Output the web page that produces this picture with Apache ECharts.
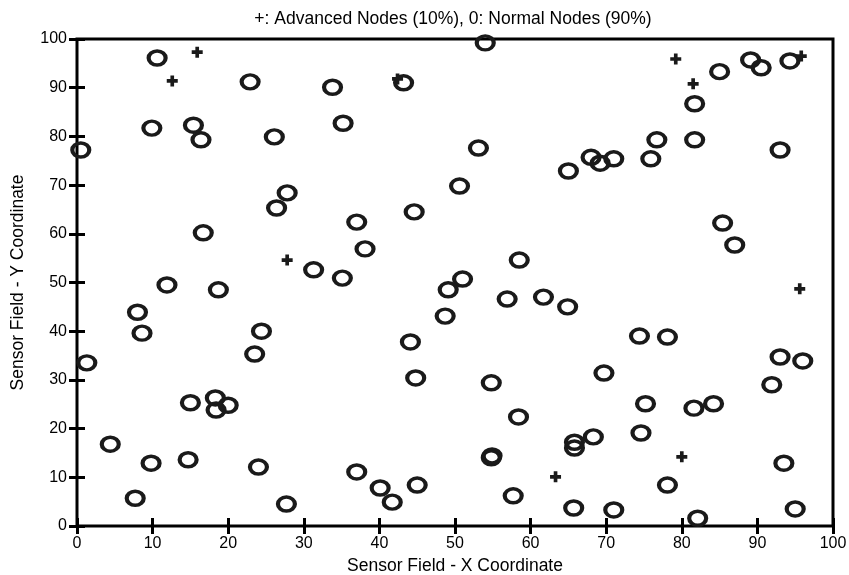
<!DOCTYPE html>
<html>
<head>
<meta charset="utf-8">
<script src="https://cdn.jsdelivr.net/npm/echarts@6/dist/echarts.min.js"></script>
<style>
html,body{margin:0;padding:0;background:#fff;}
#chart{width:849px;height:575px;}
</style>
</head>
<body>
<div id="chart"></div>
<script>
const titleText = '+: Advanced Nodes (10%), 0: Normal Nodes (90%)';
const xName = 'Sensor Field - X Coordinate';
const yName = 'Sensor Field - Y Coordinate';
const axisTicks = [0, 10, 20, 30, 40, 50, 60, 70, 80, 90, 100];

// Normal nodes (x, y)
const normalX = [10.6, 22.9, 9.9, 15.4, 16.4, 26.1, 0.5, 27.8,
  54.0, 33.8, 43.2, 35.2, 53.1, 50.6, 65.0,
  81.7, 85.0, 89.1, 90.5, 94.3, 81.7, 76.7, 75.9, 68.0, 69.2, 71.0, 93.0,
  26.4, 16.7, 11.9, 18.7, 8.0, 8.6, 24.4, 23.5, 1.3,
  44.6, 37.0, 38.1, 31.3, 35.1, 58.5, 51.0, 49.1, 56.9, 61.7, 64.9, 48.7, 44.1, 44.8, 54.8,
  85.4, 87.0, 74.4, 78.1, 69.7, 93.0, 96.0, 91.9,
  15.0, 18.3, 18.4, 20.0, 4.4, 9.8, 14.7, 24.0, 7.7, 27.7,
  58.4, 54.8, 54.9, 37.0, 40.1, 41.7, 45.0, 57.7, 65.7,
  75.2, 81.6, 84.2, 68.3, 74.6, 65.8, 65.8, 93.5, 78.1, 71.0, 82.1, 95.0];
const normalY = [96.1, 91.2, 81.7, 82.3, 79.3, 79.9, 77.2, 68.4,
  99.2, 90.1, 91.0, 82.7, 77.6, 69.8, 72.9,
  86.7, 93.3, 95.7, 94.1, 95.5, 79.3, 79.3, 75.4, 75.7, 74.5, 75.4, 77.2,
  65.3, 60.2, 49.5, 48.5, 43.9, 39.6, 40.0, 35.3, 33.5,
  64.5, 62.4, 56.9, 52.6, 50.9, 54.6, 50.7, 48.5, 46.6, 47.0, 45.0, 43.1, 37.8, 30.4, 29.4,
  62.2, 57.7, 39.0, 38.8, 31.4, 34.7, 33.9, 29.0,
  25.3, 26.3, 23.8, 24.8, 16.8, 12.9, 13.6, 12.1, 5.7, 4.5,
  22.4, 14.0, 14.4, 11.1, 7.8, 4.9, 8.4, 6.2, 3.7,
  25.1, 24.2, 25.1, 18.3, 19.1, 17.2, 16.0, 12.9, 8.4, 3.3, 1.6, 3.5];

// Advanced nodes (x, y)
const advX = [15.9, 12.6, 42.4, 79.2, 81.5, 95.8, 27.8, 95.6, 80.0, 63.3];
const advY = [97.3, 91.4, 91.8, 95.9, 90.8, 96.5, 54.6, 48.7, 14.2, 10.1];

const normalData = normalX.map((x, i) => [x, normalY[i]]);
const advData = advX.map((x, i) => [x, advY[i]]);

const FONT = '"Liberation Sans", Arial, Helvetica, sans-serif';
const chart = echarts.init(document.getElementById('chart'));

function axisBase(pos, showLabel) {
  return {
    type: 'value', min: 0, max: 100, interval: 10, position: pos,
    splitLine: {show: false},
    axisLine: {show: false},
    axisTick: {show: true, inside: true, length: 8, lineStyle: {color: '#000', width: 3}},
    axisLabel: {show: showLabel, color: '#000', fontSize: 16, fontFamily: FONT, margin: 10,
      formatter: v => axisTicks.includes(v) ? String(v) : ''}
  };
}

const option = {
  backgroundColor: '#fff',
  animation: false,
  title: {
    text: titleText, left: 448, top: 5, textAlign: 'center',
    textStyle: {fontSize: 17.5, fontWeight: 'normal', color: '#000', fontFamily: FONT}
  },
  grid: {left: 77, right: 16, top: 39, bottom: 49, show: true, borderColor: '#000', borderWidth: 3,
    backgroundColor: 'transparent', containLabel: false, outerBoundsMode: 'none'},
  xAxis: [
    Object.assign(axisBase('bottom', true), {
      name: xName, nameLocation: 'middle', nameGap: 31,
      nameTextStyle: {fontSize: 17.5, color: '#000', fontFamily: FONT}
    }),
    axisBase('top', false)
  ],
  yAxis: [
    Object.assign(axisBase('left', true), {
      name: yName, nameLocation: 'middle', nameGap: 50,
      nameTextStyle: {fontSize: 17.5, color: '#000', fontFamily: FONT}
    }),
    axisBase('right', false)
  ],
  series: [
    {
      type: 'scatter', name: 'normal', data: normalData, clip: false,
      symbol: 'circle', symbolSize: [17, 14],
      itemStyle: {color: 'rgba(0,0,0,0)', borderColor: '#1a1a1a', borderWidth: 3.8, opacity: 1}
    },
    {
      type: 'scatter', name: 'advanced', data: advData, clip: false,
      symbol: 'path://M4,0H8V4H12V8H8V12H4V8H0V4H4Z', symbolSize: 11,
      itemStyle: {color: '#1a1a1a', opacity: 1}
    }
  ]
};
chart.setOption(option);
</script>
</body>
</html>
